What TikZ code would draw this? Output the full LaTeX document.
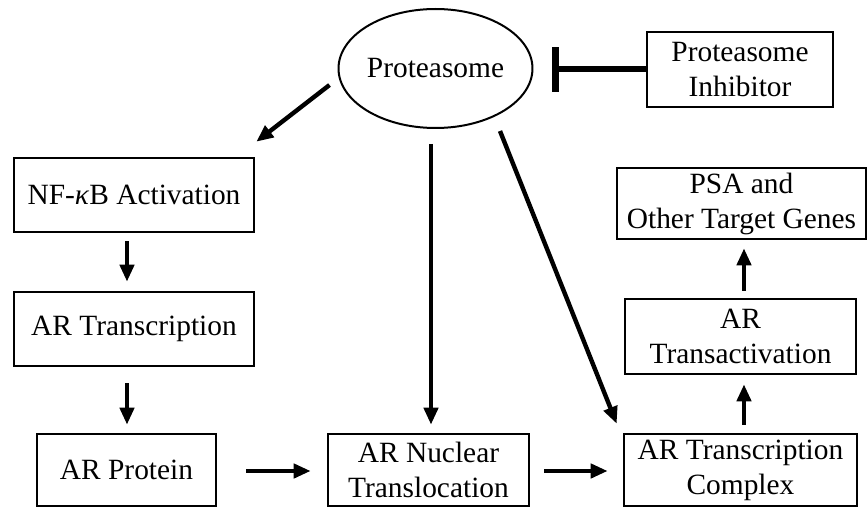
\documentclass[tikz,border=0pt]{standalone}
\usepackage{fontspec}
\setmainfont{Liberation Serif}
\usetikzlibrary{arrows.meta,shapes.geometric}
\begin{document}
\begin{tikzpicture}[x=0.5pt,y=-0.5pt,
  txt/.style={inner sep=0pt, align=center, font=\fontsize{14.7}{17.5}\selectfont},
  box/.style={txt, draw, rectangle, line width=1.3pt},
  ellnode/.style={txt, draw, ellipse, line width=1pt},
  arr/.style={line width=2.2pt, -{Triangle[length=8.5pt,width=7pt]}},
  blockline/.style={line width=3pt, -{Bar[width=22.5pt,line width=3.5pt]}}]
\useasboundingbox (0,0) rectangle (868,508);
\node[ellnode, minimum width=92.5pt, minimum height=59.5pt] (prot) at (435.5,68.5) {Proteasome};
\node[box, minimum width=93pt, minimum height=37.5pt] (inh) at (740,69.5) {Proteasome\\Inhibitor};
\node[box, minimum width=120pt, minimum height=37pt] (nf) at (134,195) {NF-\textit{κ}B Activation};
\node[box, minimum width=120pt, minimum height=37pt] (art) at (134,329) {AR Transcription};
\node[box, minimum width=89.5pt, minimum height=36pt] (arp) at (126.5,470) {AR Protein};
\node[box, minimum width=100.5pt, minimum height=36pt] (arnt) at (428.5,470) {AR Nuclear\\Translocation};
\node[box, minimum width=116.5pt, minimum height=36pt] (artc) at (740.5,470) {AR Transcription\\Complex};
\node[box, minimum width=115.5pt, minimum height=37.5pt] (arta) at (740.5,336.5) {AR\\Transactivation};
\node[box, minimum width=124.5pt, minimum height=35.5pt] (psa) at (741.5,203.5) {PSA and\\Other Target Genes};

\draw[blockline] (inh.west) -- ([shift={(19,1)}]prot.east);
\draw[arr] ([shift={(-8,16.5)}]prot.west) -- ([shift={(1,-15)}]nf.north east);
\draw[arr] ([shift={(-4.5,15)}]prot.south) -- ([shift={(2.5,-8)}]arnt.north);
\draw[arr] ([shift={(64.5,2)}]prot.south) -- ([shift={(-6,-9)}]artc.north west);
\draw[arr] ([shift={(-7,8)}]nf.south) -- ([shift={(-7,-9)}]art.north);
\draw[arr] ([shift={(-7,16)}]art.south) -- ([shift={(0.5,-8)}]arp.north);
\draw[arr] ([shift={(29,1)}]arp.east) -- ([shift={(-16,1)}]arnt.west);
\draw[arr] ([shift={(14,1)}]arnt.east) -- ([shift={(-15,1)}]artc.west);
\draw[arr] ([shift={(3.5,-8)}]artc.north) -- ([shift={(3.5,9)}]arta.south);
\draw[arr] ([shift={(3.5,-7)}]arta.north) -- ([shift={(2.5,8)}]psa.south);
\end{tikzpicture}
\end{document}
